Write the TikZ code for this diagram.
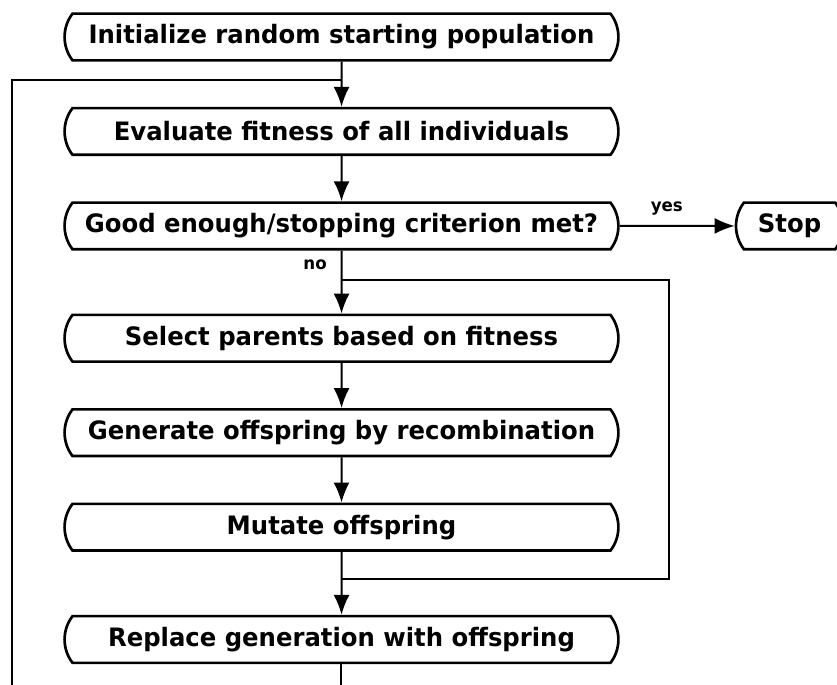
\documentclass[tikz,border=0pt]{standalone}
\usepackage{fontspec}
\setmainfont{DejaVu Sans}[FakeStretch=0.96]
\usetikzlibrary{arrows.meta,shapes.misc}

\begin{document}
\begin{tikzpicture}[->,>={Latex[length=15pt,width=12pt]},auto,node distance=2.49cm,
                line width=1.5pt,
                block/.style={rounded rectangle,rounded rectangle arc length=75,draw,line width=2pt,
                  minimum width=422pt,minimum height=35pt,font=\fontsize{19}{22}\selectfont\bfseries},
                lbl/.style={font=\fontsize{13}{15}\selectfont\bfseries}]
  \useasboundingbox (-256.1pt,27.75pt) rectangle (371.6pt,-485.25pt);

  \node[block] (init) {Initialize random starting population};
  \node[block] (eval) [below of=init] {Evaluate fitness of all individuals};
  \node[block] (good) [below of=eval] {Good enough/stopping criterion met?};
  \node[block] (select) [below of=good, node distance=2.96cm] {Select parents based on fitness};
  \node[block] (gen) [below of=select] {Generate offspring by recombination};
  \node[block] (mut) [below of=gen] {Mutate offspring};
  \node[block] (repl) [below of=mut, node distance=2.96cm] {Replace generation with offspring};
  \node[block, minimum width=87pt] (stop) [right of=good, node distance=11.81cm] {Stop};

  % loop junctions
  \coordinate (jtop) at ([yshift=-14pt]init.south);
  \coordinate (jbot) at ([yshift=-40pt]repl.south);
  \coordinate (lft) at ([xshift=-247pt]jtop);
  \coordinate (jmid) at ([yshift=-21.75pt]good.south);
  \coordinate (jlow) at ([yshift=-20pt]mut.south);
  \coordinate (rgt) at ([xshift=245.6pt]jlow);

  \path
    (init) edge (eval)
    (eval) edge (good)
    (good) edge node[lbl, pos=0.22, left=7pt] {no} (select)
    (select) edge (gen)
    (gen) edge (mut)
    (mut) edge (repl)
    (good) edge node[lbl, pos=0.41, above=4pt] {yes} (stop)
  ;

  \draw[-] (repl.south) -- (jbot) -| (lft) -- (jtop);
  \draw[-] (jlow) -- (rgt) |- (jmid);
\end{tikzpicture}
\end{document}
